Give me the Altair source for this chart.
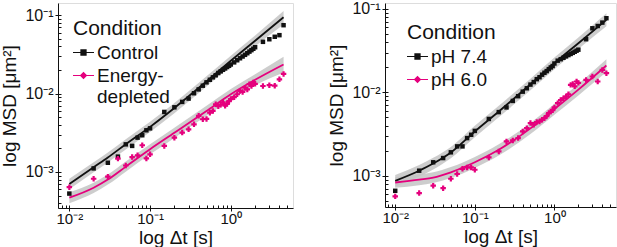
import altair as alt
import pandas as pd

FONT = "Liberation Sans"
BLACK = "#111111"
PINK = "#e5007d"
GRAY = "#c4c4c4"

# ---- data points (lag time in s, MSD in um^2) ----
X_DATA = [0.01, 0.02, 0.03, 0.04, 0.05, 0.06, 0.07, 0.08, 0.09, 0.10,
          0.15, 0.20, 0.25, 0.30, 0.35, 0.40, 0.45, 0.50, 0.55, 0.60,
          0.65, 0.70, 0.75, 0.80, 0.85, 0.90, 0.95, 1.00,
          1.1, 1.2, 1.3, 1.4, 1.5, 1.6, 1.7, 1.8, 1.9, 2.0,
          2.5, 3.0, 3.5, 4.0, 4.5]

CONTROL = [0.00053, 0.00111, 0.00131, 0.00157, 0.00225, 0.00215, 0.00274, 0.00294, 0.00340, 0.00360,
           0.00583, 0.00668, 0.00783, 0.00863, 0.0101, 0.0113, 0.0126, 0.0139, 0.0150, 0.0161,
           0.0171, 0.0183, 0.0192, 0.0201, 0.0209, 0.0218, 0.0226, 0.0235,
           0.0250, 0.0266, 0.0282, 0.0297, 0.0312, 0.0327, 0.0343, 0.0358, 0.0373, 0.0390,
           0.0457, 0.0493, 0.0530, 0.0556, 0.0745]

ENERGY = [0.00064, 0.00082, 0.00087, 0.00148, 0.00121, 0.00155, 0.00163, 0.00219, 0.00149, 0.00168,
          0.00215, 0.00274, 0.00318, 0.00350, 0.00405, 0.00520, 0.00470, 0.00475, 0.00570, 0.00600,
          0.00730, 0.00690, 0.00720, 0.00770, 0.00700, 0.00740, 0.00800, 0.00850,
          0.00900, 0.00980, 0.01080, 0.01050, 0.01190, 0.01130, 0.01320, 0.01250, 0.01380, 0.01330,
          0.01250, 0.01280, 0.01260, 0.01520, 0.01780]

PH74 = [0.00066, 0.00115, 0.00145, 0.00163, 0.00191, 0.00225, 0.00225, 0.00283, 0.00310, 0.00345,
        0.0048, 0.0058, 0.0066, 0.0079, 0.0090, 0.0102, 0.0112, 0.0124, 0.0133, 0.0144,
        0.0152, 0.0163, 0.0172, 0.0180, 0.0190, 0.0199, 0.0207, 0.0222,
        0.0240, 0.0250, 0.0260, 0.0270, 0.0280, 0.0289, 0.0298, 0.0307, 0.0316, 0.0325,
        0.0434, 0.0587, 0.0625, 0.0687, 0.0775]

PH60 = [0.000566, 0.00062, 0.00076, 0.00071, 0.00092, 0.00105, 0.00121, 0.00126, 0.00126, 0.00118,
        0.00166, 0.00196, 0.00258, 0.00265, 0.00283, 0.00340, 0.00372, 0.00428, 0.00410, 0.00440,
        0.00448, 0.00470, 0.00490, 0.00520, 0.00564, 0.00590, 0.00610, 0.00660,
        0.00743, 0.00810, 0.00850, 0.00890, 0.00950, 0.01230, 0.01260, 0.01180, 0.01350, 0.01300,
        0.01410, 0.01550, 0.01350, 0.01860, 0.01700]

# ---- fitted curves with confidence band ----
X_FIT = [0.01, 0.02, 0.03, 0.05, 0.1, 0.2, 0.5, 1.0, 2.0, 4.5]

CONTROL_FIT = [0.00070, 0.00115, 0.00153, 0.00226, 0.00376, 0.00655, 0.0143, 0.0262, 0.0472, 0.0940]
CONTROL_LO = [0.00060, 0.00099, 0.00132, 0.00194, 0.00323, 0.00563, 0.0123, 0.0225, 0.0401, 0.0760]
CONTROL_HI = [0.00082, 0.00133, 0.00177, 0.00262, 0.00436, 0.00760, 0.0166, 0.0304, 0.0550, 0.1130]

ENERGY_FIT = [0.00047, 0.00063, 0.00080, 0.00117, 0.00195, 0.00316, 0.0060, 0.0098, 0.0150, 0.0235]
ENERGY_LO = [0.00040, 0.00054, 0.00069, 0.00101, 0.00168, 0.00272, 0.0052, 0.0084, 0.0128, 0.0185]
ENERGY_HI = [0.00055, 0.00073, 0.00093, 0.00136, 0.00226, 0.00367, 0.0070, 0.0114, 0.0176, 0.0295]

PH74_FIT = [0.00087, 0.00115, 0.00140, 0.00190, 0.00340, 0.00590, 0.0125, 0.0224, 0.0389, 0.0740]
PH74_LO = [0.00074, 0.00098, 0.00119, 0.00162, 0.00289, 0.00502, 0.0106, 0.0190, 0.0331, 0.0620]
PH74_HI = [0.00102, 0.00135, 0.00164, 0.00222, 0.00398, 0.00690, 0.0146, 0.0262, 0.0455, 0.0890]

PH60_FIT = [0.00083, 0.00090, 0.00095, 0.00110, 0.00145, 0.00205, 0.0037, 0.0063, 0.0108, 0.0210]
PH60_LO = [0.00072, 0.00077, 0.00082, 0.00094, 0.00124, 0.00175, 0.00316, 0.0054, 0.0092, 0.0176]
PH60_HI = [0.00096, 0.00104, 0.00110, 0.00127, 0.00168, 0.00238, 0.00430, 0.0073, 0.0126, 0.0250]

X_MAJOR = [0.01, 0.1, 1]
Y_MAJOR = [0.001, 0.01, 0.1]
X_TICKS = [0.008, 0.009, 0.01, 0.02, 0.03, 0.04, 0.05, 0.06, 0.07, 0.08, 0.09,
           0.1, 0.2, 0.3, 0.4, 0.5, 0.6, 0.7, 0.8, 0.9, 1, 2, 3, 4, 5]
Y_TICKS = [0.0004, 0.0005, 0.0006, 0.0007, 0.0008, 0.0009, 0.001,
           0.002, 0.003, 0.004, 0.005, 0.006, 0.007, 0.008, 0.009, 0.01,
           0.02, 0.03, 0.04, 0.05, 0.06, 0.07, 0.08, 0.09, 0.1]

X_LABELS = "datum.value < 0.05 ? '10⁻²' : datum.value < 0.5 ? '10⁻¹' : '10⁰'"
Y_LABELS = "datum.value < 0.005 ? '10⁻³' : datum.value < 0.05 ? '10⁻²' : '10⁻¹'"

# legend glyphs: short line with a marker in the middle (filled paths)
SQUARE_GLYPH = "M-1,-0.05H1V0.05H-1Z M-0.3,-0.3H0.3V0.3H-0.3Z"
DIAMOND_GLYPH = "M-1,-0.05H1V0.05H-1Z M0,-0.36L0.36,0L0,0.36L-0.36,0Z"


def points_df(names, ys):
    rows = []
    for name, vals in zip(names, ys):
        for t, v in zip(X_DATA, vals):
            rows.append({"t": t, "msd": v, "Condition": name})
    return pd.DataFrame(rows)


def fit_df(names, fits, los, his):
    rows = []
    for name, f, lo, hi in zip(names, fits, los, his):
        for t, a, b, c in zip(X_FIT, f, lo, hi):
            rows.append({"t": t, "fit": a, "lo": b, "hi": c, "Condition": name})
    return pd.DataFrame(rows)


def panel(names, pts, fit, xdom, ydom, w, h, legx, legy):
    xs = alt.Scale(type="log", domain=xdom, nice=False)
    ys = alt.Scale(type="log", domain=ydom, nice=False)
    cscale = alt.Scale(domain=names, range=[BLACK, PINK])
    yt = [v for v in Y_TICKS if ydom[0] <= v <= ydom[1]]
    xt = [v for v in X_TICKS if xdom[0] <= v <= xdom[1]]

    common = dict(grid=False, labelFont=FONT, titleFont=FONT, labelColor=BLACK,
                  titleColor=BLACK, tickColor=BLACK, domainColor=BLACK,
                  titleFontWeight="normal")
    main_x = alt.Axis(values=X_MAJOR, labelExpr=X_LABELS, orient="bottom", tickSize=3,
                      labelPadding=0, labelFontSize=15, title="log Δt [s]", titleFontSize=19,
                      titlePadding=2, **common)
    main_y = alt.Axis(values=Y_MAJOR, labelExpr=Y_LABELS, orient="left", tickSize=3,
                      labelPadding=2, labelFontSize=16, title="log MSD [μm²]", titleFontSize=19,
                      titlePadding=5, **common)
    inner_x = alt.Axis(values=xt, orient="bottom", offset=-3, tickSize=3, labels=False,
                       domain=False, title=None, grid=False, tickColor=BLACK)
    inner_y = alt.Axis(values=yt, orient="left", offset=-3, tickSize=3, labels=False,
                       domain=False, title=None, grid=False, tickColor=BLACK)

    legend = alt.Legend(
        title="Condition", orient="none", legendX=legx, legendY=legy,
        titleFont=FONT, titleFontSize=21, titleFontWeight="normal", titleColor=BLACK,
        titlePadding=3, labelFont=FONT, labelFontSize=19, labelColor=BLACK, labelOffset=3,
        symbolSize=441, symbolOpacity=1, symbolStrokeWidth=0, rowPadding=2,
        labelExpr="datum.label == 'Energy-depleted' ? ['Energy-', 'depleted'] : datum.label",
    )

    band = alt.Chart(fit).mark_area(color=GRAY, opacity=0.85, interpolate="monotone").encode(
        x=alt.X("t:Q", scale=xs, axis=main_x),
        y=alt.Y("lo:Q", scale=ys, axis=main_y),
        y2="hi:Q",
        detail="Condition:N",
    )
    line1 = alt.Chart(fit).transform_filter(alt.datum.Condition == names[0]).mark_line(
        strokeWidth=1.8, interpolate="monotone", color=BLACK).encode(
        x=alt.X("t:Q", scale=xs, axis=inner_x),
        y=alt.Y("fit:Q", scale=ys, axis=inner_y),
    )
    line2 = alt.Chart(fit).transform_filter(alt.datum.Condition == names[1]).mark_line(
        strokeWidth=1.8, interpolate="monotone", color=PINK).encode(
        x=alt.X("t:Q", scale=xs, axis=None),
        y=alt.Y("fit:Q", scale=ys, axis=None),
    )
    sq = alt.Chart(pts).transform_filter(alt.datum.Condition == names[0]).mark_point(
        filled=True, shape="square", size=20, opacity=1, color=BLACK).encode(
        x=alt.X("t:Q", scale=xs, axis=None),
        y=alt.Y("msd:Q", scale=ys, axis=None),
    )
    cr = alt.Chart(pts).transform_filter(alt.datum.Condition == names[1]).mark_point(
        filled=True, shape="cross", size=30, opacity=1, color=PINK).encode(
        x=alt.X("t:Q", scale=xs, axis=None),
        y=alt.Y("msd:Q", scale=ys, axis=None),
    )
    # zero-size marks that only carry the legend
    key = alt.Chart(fit).mark_point(filled=True, size=0).encode(
        x=alt.X("t:Q", scale=xs, axis=None),
        y=alt.Y("fit:Q", scale=ys, axis=None),
        color=alt.Color("Condition:N", scale=cscale, legend=legend),
        shape=alt.Shape("Condition:N",
                        scale=alt.Scale(domain=names, range=[SQUARE_GLYPH, DIAMOND_GLYPH]),
                        legend=legend),
    )
    return alt.layer(band, line1, line2, sq, cr, key).resolve_axis(
        x="independent", y="independent").properties(width=w, height=h)


left_names = ["Control", "Energy-depleted"]
right_names = ["pH 7.4", "pH 6.0"]

left = panel(left_names,
             points_df(left_names, [CONTROL, ENERGY]),
             fit_df(left_names, [CONTROL_FIT, ENERGY_FIT], [CONTROL_LO, ENERGY_LO], [CONTROL_HI, ENERGY_HI]),
             [0.00724, 5.89], [0.000347, 0.143], 235, 205, 15, 15)
right = panel(right_names,
              points_df(right_names, [PH74, PH60]),
              fit_df(right_names, [PH74_FIT, PH60_FIT], [PH74_LO, PH60_LO], [PH74_HI, PH60_HI]),
              [0.00744, 5.94], [0.000422, 0.118], 231, 204, 22, 19)

chart = alt.hconcat(left, right, spacing=33).resolve_scale(
    x="independent", y="independent", color="independent", shape="independent"
).properties(padding=0).configure_view(stroke="#333333", strokeWidth=1).configure(
    background="white")

chart.save("out.html", embed_options={"renderer": "svg", "actions": False})
